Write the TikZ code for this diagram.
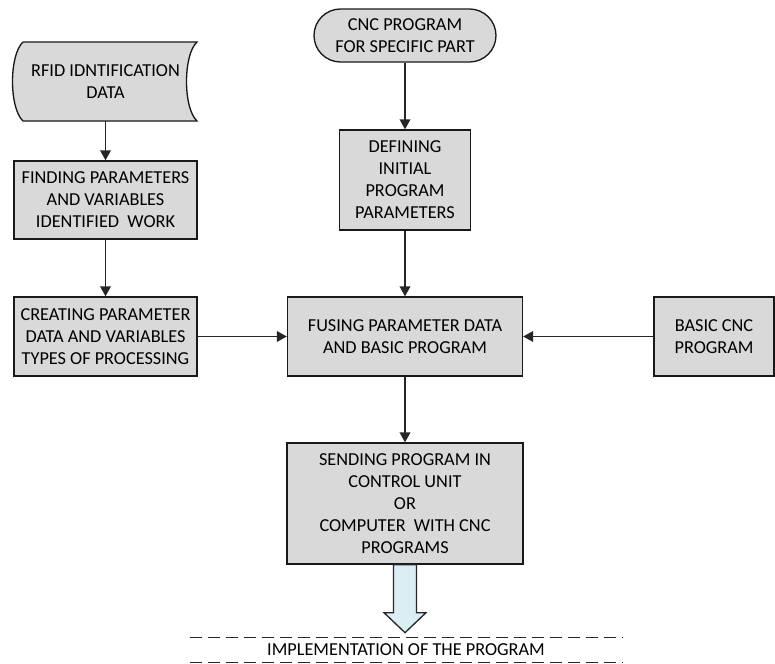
\documentclass[tikz,border=0pt]{standalone}
\usepackage{fontspec}
\setmainfont{Carlito}
\usetikzlibrary{arrows.meta,shapes.misc}

\begin{document}
\begin{tikzpicture}[x=0.75pt,y=-0.75pt,
    every node/.style={font=\fontsize{13.7}{16.5}\selectfont},
    box/.style={draw=black!90, fill=black!15, line width=1pt, align=center, inner sep=0pt},
    flow/.style={draw=black!85, line width=1.1pt, -{Triangle[length=7.5pt,width=8pt]}},
    dashline/.style={draw=black!85, line width=0.9pt, dash pattern=on 9pt off 4.5pt}]
    \useasboundingbox (0,0) rectangle (775,664);

    % left column
    \filldraw[draw=black!90, fill=black!15, line width=1pt] (23,42) -- (197,42)
        .. controls (183,55) and (183,108) .. (197,121) -- (23,121)
        .. controls (9,108) and (9,55) .. (23,42);
    \node[align=center, minimum width=138pt, minimum height=59.25pt] (rfid) at (105.5,81.5) {RFID IDNTIFICATION\\DATA};
    \node[box, minimum width=137.25pt, minimum height=58.5pt] (finding) at (105.5,200) {FINDING PARAMETERS\\AND VARIABLES\\IDENTIFIED\ \ WORK};
    \node[box, minimum width=137.25pt, minimum height=59.25pt] (creating) at (105.5,336.5) {CREATING PARAMETER\\DATA AND VARIABLES\\TYPES OF PROCESSING};

    % middle column
    \node[box, rounded rectangle, minimum width=136.5pt, minimum height=39.75pt] (cnc) at (405,35.5) {CNC PROGRAM\\FOR SPECIFIC PART};
    \node[box, minimum width=98.25pt, minimum height=75pt] (defining) at (405,180) {DEFINING\\INITIAL\\PROGRAM\\PARAMETERS};
    \node[box, minimum width=176.25pt, minimum height=59.25pt] (fusing) at (405,336.5) {FUSING PARAMETER DATA\\AND BASIC PROGRAM};
    \node[box, minimum width=177pt, minimum height=90.75pt] (sending) at (405,503.5) {SENDING PROGRAM IN\\CONTROL UNIT\\OR\\COMPUTER\ \ WITH CNC\\PROGRAMS};
    \node[minimum width=324pt, minimum height=18pt, inner sep=0pt] (impl) at (406,650) {IMPLEMENTATION OF THE PROGRAM};

    % right
    \node[box, minimum width=90pt, minimum height=59.25pt] (basic) at (714,336.5) {BASIC CNC\\PROGRAM};

    \draw[flow] (rfid.south) -- (finding.north);
    \draw[flow] (finding.south) -- (creating.north);
    \draw[flow] (cnc.south) -- (defining.north);
    \draw[flow] (defining.south) -- (fusing.north);
    \draw[flow] (creating.east) -- (fusing.west);
    \draw[flow] (basic.west) -- (fusing.east);
    \draw[flow] (fusing.south) -- (sending.north);

    \filldraw[draw=black!85, fill={rgb,255:red,218;green,238;blue,243}, line width=1pt, shift={(sending.south)}]
        (-11.5,0) -- (11.5,0) -- (11.5,48) -- (21,48) -- (0,68) -- (-21,48) -- (-11.5,48) -- cycle;

    \draw[dashline] (impl.north west) -- (impl.north east);
    \draw[dashline] (impl.south west) -- (impl.south east);
\end{tikzpicture}
\end{document}
